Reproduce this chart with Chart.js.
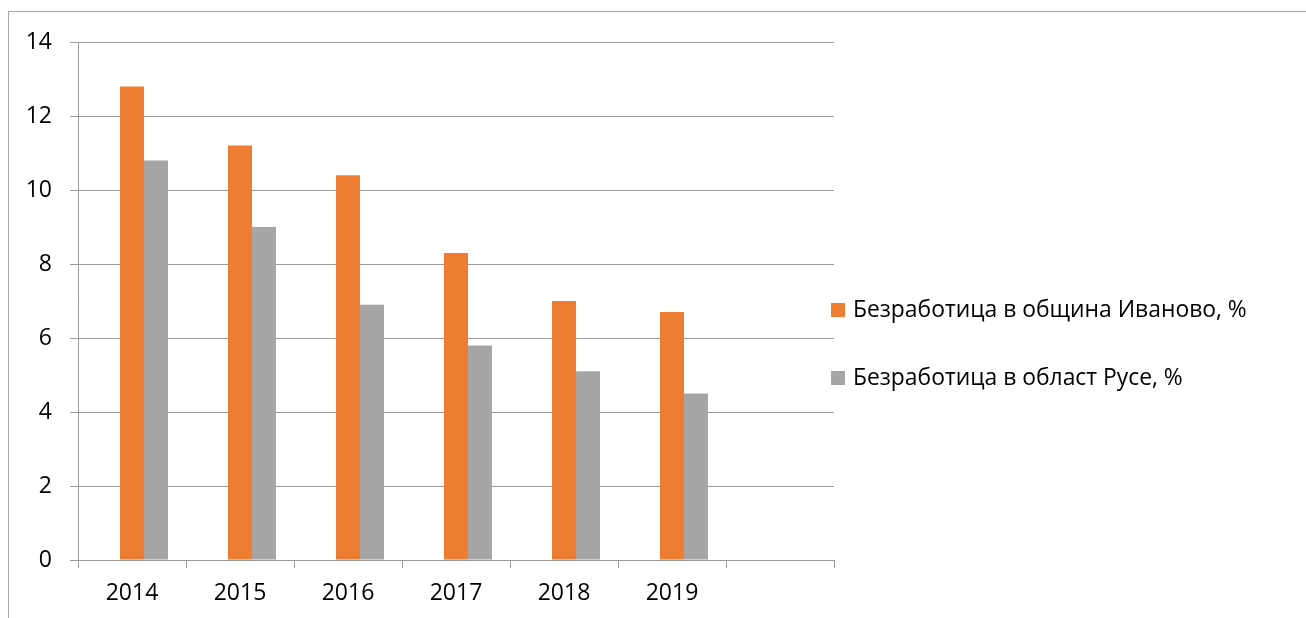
<!DOCTYPE html>
<html>
<head>
<meta charset="utf-8">
<script src="https://cdn.jsdelivr.net/npm/chart.js@4.4.1/dist/chart.umd.min.js"></script>
<style>
  html, body { margin: 0; padding: 0; background: #fff; overflow: hidden; }
  #frame { position: absolute; left: 8px; top: 11px; width: 2000px; height: 2000px;
           border-left: 1px solid #a6a6a6; border-top: 1px solid #a6a6a6; box-sizing: border-box; }
  #c { position: absolute; left: 0; top: 0; }
</style>
</head>
<body>
<div id="frame"></div>
<canvas id="c" width="1306" height="618"></canvas>
<script>
// Categories (the last slot is an empty category, as in the original chart)
const categories = ['2014', '2015', '2016', '2017', '2018', '2019', ''];
// Series values (%)
const ivanovo = [12.8, 11.2, 10.4, 8.3, 7.0, 6.7, null];
const ruse    = [10.8, 9.0, 6.9, 5.8, 5.1, 4.5, null];
const emptySeries = [null, null, null, null, null, null, null];
// Series labels
const labelIvanovo = 'Безработица в община Иваново, %';
const labelRuse = 'Безработица в област Русе, %';
// Y-axis ticks
const yMin = 0, yMax = 14, yStep = 2;

const ORANGE = '#ED7D31';
const GRAY = '#A5A5A5';
const GRID = '#999999';
const FONT = "'Open Sans', sans-serif";

const legendPlugin = {
  id: 'sideLegend',
  afterDraw(chart) {
    const ctx = chart.ctx;
    const items = chart.data.datasets.filter(d => d.label);
    ctx.save();
    // fit font so the longest label spans the reference width
    let size = 18;
    ctx.font = size + 'px ' + FONT;
    const w = ctx.measureText(items[0].label).width;
    size = size * 394 / w;
    ctx.font = size.toFixed(2) + 'px ' + FONT;
    ctx.textBaseline = 'alphabetic';
    ctx.textAlign = 'left';
    const boxX = 831, textX = 853;
    const baselines = [317, 385];
    items.forEach((d, i) => {
      const bl = baselines[i];
      ctx.fillStyle = d.backgroundColor;
      ctx.fillRect(boxX, bl - 14, 14, 14);
      ctx.fillStyle = '#000';
      ctx.fillText(d.label, textX, bl);
    });
    ctx.restore();
  }
};

new Chart(document.getElementById('c'), {
  type: 'bar',
  data: {
    labels: categories,
    datasets: [
      { label: '', data: emptySeries, backgroundColor: 'rgba(0,0,0,0)' },
      { label: labelIvanovo, data: ivanovo, backgroundColor: ORANGE, borderWidth: 0 },
      { label: labelRuse, data: ruse, backgroundColor: GRAY, borderWidth: 0 }
    ]
  },
  options: {
    responsive: false,
    animation: false,
    devicePixelRatio: 1,
    categoryPercentage: 72 / 108,
    barPercentage: 1,
    layout: { padding: { left: 0, top: 42, right: 472, bottom: 0 } },
    plugins: {
      legend: { display: false },
      tooltip: { enabled: false },
      title: { display: false }
    },
    scales: {
      x: {
        grid: { offset: true, drawOnChartArea: false, drawTicks: true, tickLength: 8, color: GRID },
        border: { display: true, color: GRID, width: 1 },
        ticks: { color: '#000', font: { family: FONT, size: 23 }, padding: 12, maxRotation: 0, autoSkip: false },
        afterFit(scale) { scale.height = 58; }
      },
      y: {
        min: yMin, max: yMax,
        grid: { color: GRID, drawTicks: true, tickLength: 8 },
        border: { display: true, color: GRID, width: 1 },
        ticks: { stepSize: yStep, color: '#000', font: { family: FONT, size: 23 }, padding: 18 },
        afterFit(scale) { scale.width = 78; }
      }
    }
  },
  plugins: [legendPlugin]
});
</script>
</body>
</html>
